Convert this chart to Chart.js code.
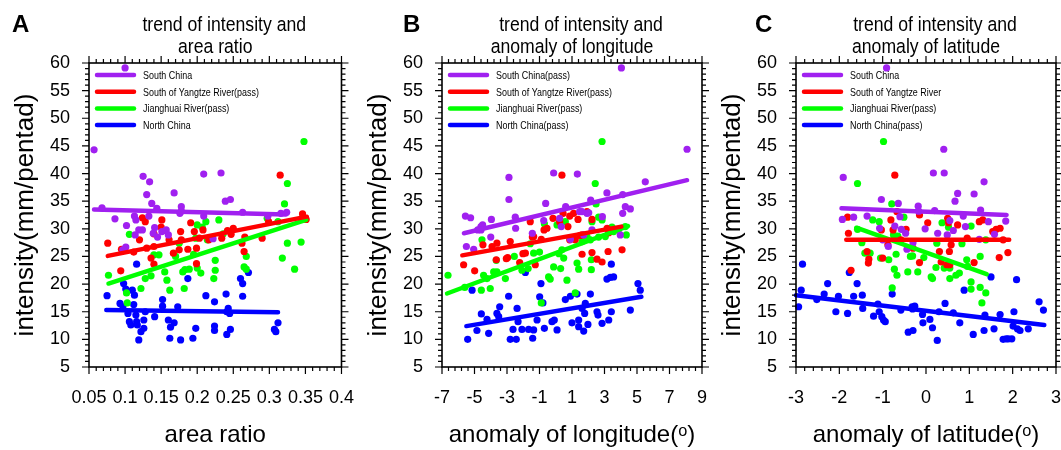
<!DOCTYPE html>
<html>
<head>
<meta charset="utf-8">
<script src="https://cdn.jsdelivr.net/npm/chart.js@4/dist/chart.umd.min.js"></script>
<style>
html, body { margin: 0; padding: 0; background: #fff; overflow: hidden; }
#wrap { position: relative; width: 1061px; height: 450px; }
canvas { position: absolute; top: 0; }
</style>
</head>
<body>
<div id="wrap">
  <canvas id="chartA" width="374" height="450" style="left:0px"></canvas>
  <canvas id="chartB" width="374" height="450" style="left:353px"></canvas>
  <canvas id="chartC" width="374" height="450" style="left:707px"></canvas>
</div>
<script>
// ---- data: [x, intensity] ----
var yTicks = [5, 10, 15, 20, 25, 30, 35, 40, 45, 50, 55, 60];
var regionColors = ['#a020f0', '#ff0000', '#00ff00', '#0000ff'];

// A: area ratio
var aTicks = [0.05, 0.1, 0.15, 0.2, 0.25, 0.3, 0.35, 0.4];
var aTickLabels = ['0.05', '0.1', '0.15', '0.2', '0.25', '0.3', '0.35', '0.4'];
var aNames = ['South China', 'South of Yangtze River(pass)', 'Jianghuai River(pass)', 'North China'];
var aSouth = [[0.057,44.3],[0.100,59.1],[0.068,33.8],[0.086,31.8],[0.102,30.6],[0.101,26.7],[0.097,26.2],[0.115,31.6],[0.113,32.3],[0.119,29.8],[0.124,29.8],[0.114,28.9],[0.125,39.5],[0.134,38.5],[0.130,36.2],[0.137,34.6],[0.133,32.3],[0.141,30.2],[0.139,29.2],[0.145,28.5],[0.151,29.5],[0.157,29.8],[0.160,28.9],[0.168,36.5],[0.178,34.0],[0.176,32.8],[0.209,39.9],[0.209,32.3],[0.222,28.2],[0.233,40.1],[0.239,35.0],[0.246,35.3],[0.263,33.0],[0.298,32.3],[0.316,32.8],[0.324,33.0],[0.144,33.7],[0.178,33.2]];
var aYangtze = [[0.076,27.4],[0.094,22.4],[0.095,26.3],[0.124,32.0],[0.120,28.0],[0.140,29.1],[0.151,31.6],[0.150,30.3],[0.153,29.7],[0.140,26.8],[0.130,26.5],[0.136,24.7],[0.140,23.6],[0.161,28.0],[0.167,25.6],[0.175,26.2],[0.177,29.5],[0.178,28.0],[0.187,26.3],[0.191,31.1],[0.196,29.5],[0.203,28.3],[0.216,28.0],[0.199,23.7],[0.199,26.5],[0.208,29.8],[0.221,28.3],[0.234,28.3],[0.242,29.7],[0.250,30.1],[0.247,29.0],[0.266,28.5],[0.265,25.9],[0.262,27.4],[0.290,28.3],[0.299,31.3],[0.315,39.7],[0.346,32.7],[0.351,31.7],[0.112,25.8],[0.128,31.3]];
var aJianghuai = [[0.077,21.6],[0.106,29.0],[0.102,18.4],[0.103,16.6],[0.122,19.2],[0.128,21.0],[0.136,21.5],[0.140,25.3],[0.147,25.3],[0.155,22.2],[0.158,20.7],[0.162,18.9],[0.170,25.0],[0.175,27.4],[0.180,22.2],[0.182,19.2],[0.189,22.7],[0.198,28.3],[0.200,30.7],[0.200,22.9],[0.205,22.0],[0.207,30.3],[0.212,31.3],[0.214,28.0],[0.223,21.0],[0.225,24.3],[0.225,22.5],[0.230,31.6],[0.236,29.1],[0.265,23.1],[0.268,25.0],[0.268,22.7],[0.297,31.9],[0.312,31.3],[0.318,24.7],[0.321,34.5],[0.325,38.2],[0.325,27.4],[0.335,22.7],[0.344,27.6],[0.348,45.8],[0.195,25.4],[0.183,22.6]];
var aNorth = [[0.075,17.9],[0.093,16.5],[0.097,15.9],[0.098,20.1],[0.101,19.1],[0.104,14.7],[0.106,13.2],[0.108,12.6],[0.110,18.9],[0.112,16.3],[0.113,18.0],[0.115,14.4],[0.116,23.6],[0.116,13.2],[0.117,12.6],[0.119,9.9],[0.122,11.4],[0.126,12.0],[0.126,13.5],[0.128,15.0],[0.141,14.1],[0.152,17.2],[0.152,16.0],[0.160,13.5],[0.162,10.2],[0.163,12.2],[0.168,13.0],[0.173,15.9],[0.177,9.9],[0.187,21.0],[0.194,10.2],[0.198,12.0],[0.212,17.9],[0.224,16.8],[0.224,12.4],[0.224,11.6],[0.240,18.2],[0.241,10.9],[0.241,15.0],[0.243,15.6],[0.245,14.7],[0.246,11.8],[0.260,21.0],[0.263,20.1],[0.263,17.8],[0.271,22.1],[0.307,11.8],[0.309,11.4],[0.312,13.0]];
var aTrends = [[[0.057,33.5],[0.323,32.6]], [[0.076,25.1],[0.352,32.2]], [[0.077,20.1],[0.351,31.6]], [[0.074,15.3],[0.312,14.9]]];

// B: anomaly of longitude
var bTicks = [-7, -5, -3, -1, 1, 3, 5, 7, 9];
var bTickLabels = ['-7', '-5', '-3', '-1', '1', '3', '5', '7', '9'];
var bNames = ['South China(pass)', 'South of Yangtze River(pass)', 'Jianghuai River(pass)', 'North China(pass)'];
var bSouth = [[-5.56,32.3],[-5.24,32.0],[-5.50,26.8],[-5.05,26.3],[-4.6,30.4],[-4.5,30.7],[-4.8,29.8],[-4.6,29.8],[-3.96,31.7],[-4.0,28.5],[-2.88,39.3],[-2.88,35.3],[-2.49,32.1],[-2.47,30.1],[-1.44,29.2],[-0.74,31.5],[-0.62,34.6],[-0.13,40.1],[0.24,31.9],[0.34,30.4],[0.61,34.0],[0.90,28.1],[1.33,39.9],[1.47,33.1],[1.72,28.9],[1.92,32.8],[2.15,35.2],[2.23,29.8],[2.87,32.2],[3.15,36.5],[4.12,36.2],[5.51,38.5],[8.08,44.4],[4.28,34.0],[4.59,33.6],[4.12,32.8],[3.97,28.9],[4.04,59.1],[1.62,33.1],[2.03,32.9]];
var bYangtze = [[-5.67,23.5],[-4.99,22.4],[-3.92,26.8],[-3.62,27.4],[-3.66,24.4],[-2.96,24.8],[-2.80,27.7],[-2.22,23.9],[-1.87,25.6],[-1.57,31.3],[-1.36,28.6],[-1.26,23.5],[-0.89,28.1],[-0.72,29.8],[-0.54,30.1],[0.24,31.3],[0.38,39.7],[0.45,32.8],[0.75,30.4],[0.86,32.3],[0.86,28.0],[1.10,32.8],[1.37,31.7],[1.5,28.8],[1.2,28.0],[1.62,25.4],[1.62,28.9],[1.92,33.1],[2.23,31.7],[2.23,25.7],[2.54,24.5],[2.85,24.0],[3.16,30.1],[3.22,25.9],[3.26,29.3],[4.08,26.2],[-4.48,27.1],[-3.04,24.6],[-2.02,25.5],[-1.44,28.5],[-0.17,31.9]];
var bJianghuai = [[-6.63,21.6],[-5.6,19.4],[-4.54,28.0],[-4.58,18.9],[-4.03,19.2],[-4.44,21.6],[-4.23,21.0],[-3.82,22.2],[-3.62,22.2],[-3.66,24.3],[-3.10,21.0],[-2.55,25.0],[-2.08,22.5],[-1.57,27.3],[-1.36,25.6],[-0.89,16.6],[-0.70,30.9],[-0.44,21.3],[-0.34,20.9],[-0.13,23.1],[0.08,30.7],[0.38,26.2],[0.49,24.7],[0.59,31.3],[0.69,20.7],[1.20,18.4],[1.31,23.8],[1.41,22.7],[1.62,27.7],[1.92,28.6],[2.13,28.0],[2.19,24.4],[2.19,22.6],[2.23,31.3],[2.43,38.2],[2.48,34.5],[2.64,28.5],[2.64,32.1],[2.85,45.8],[2.85,31.6],[3.05,28.6],[3.46,30.3],[3.56,29.5],[3.87,29.9],[4.28,30.4],[4.34,28.9],[-1.0,25.8],[0.2,25.5],[-1.7,22.8],[0.3,22.8]];
var bNorth = [[-5.42,10.0],[-5.15,18.9],[-4.85,11.6],[-4.58,14.6],[-4.23,13.6],[-4.13,11.1],[-3.62,14.7],[-3.51,14.1],[-3.45,15.9],[-2.90,17.8],[-2.80,10.0],[-2.43,10.0],[-2.63,11.8],[-2.38,15.6],[-2.32,13.2],[-2.08,11.8],[-1.67,11.8],[-1.36,11.7],[-1.42,10.2],[-1.87,22.1],[-1.15,13.5],[-0.99,17.7],[-0.91,20.1],[-0.79,16.6],[-0.70,12.0],[-0.23,13.2],[-0.09,13.5],[0.08,11.7],[0.59,17.2],[1.31,18.2],[2.13,18.2],[1.82,16.5],[1.78,14.7],[1.62,15.6],[1.41,13.5],[1.41,12.3],[1.98,12.7],[1.72,11.5],[2.54,15.0],[2.60,14.4],[2.85,12.9],[3.26,13.5],[3.42,15.0],[3.42,23.6],[3.15,20.9],[3.36,21.2],[3.56,21.3],[5.06,20.1],[5.20,18.9],[4.59,15.3],[0.9,17.8],[1.0,13.0]];
var bTrends = [[[-5.65,29.2],[8.08,38.8]], [[-5.75,25.2],[4.04,30.4]], [[-6.69,18.3],[4.45,30.5]], [[-5.50,12.4],[5.27,17.7]]];

// C: anomaly of latitude
var cTicks = [-3, -2, -1, 0, 1, 2, 3];
var cTickLabels = ['-3', '-2', '-1', '0', '1', '2', '3'];
var cNames = ['South China', 'South of Yangtze River', 'Jianghuai River(pass)', 'North China(pass)'];
var cSouth = [[-0.91,59.1],[-1.91,39.3],[-1.93,31.7],[-1.67,32.1],[-1.36,32.3],[-1.03,35.3],[-1.07,30.1],[-1.0,28.0],[-0.87,26.8],[-0.64,34.6],[-0.60,32.2],[-0.72,30.5],[-0.57,29.9],[-0.47,29.2],[-0.44,26.3],[-0.18,34.1],[-0.17,33.2],[-0.02,30.0],[0.17,40.1],[0.42,40.1],[0.41,44.4],[0.20,33.3],[0.27,29.2],[0.49,28.9],[0.63,29.7],[0.67,35.0],[0.73,36.4],[0.86,32.3],[0.91,30.4],[1.11,36.3],[1.23,28.1],[1.26,33.4],[1.34,38.5],[1.44,31.3],[1.58,29.0],[1.84,31.4],[-0.3,27.5],[0.55,31.5]];
var cYangtze = [[-1.81,32.1],[-1.79,29.2],[-1.73,22.5],[-1.36,25.9],[-1.33,23.8],[-1.32,24.5],[-1.0,24.7],[-0.81,31.6],[-0.72,39.7],[-0.88,27.1],[-0.58,28.0],[-0.67,33.1],[-0.46,29.9],[-0.15,23.9],[-0.15,32.5],[0.04,31.1],[0.50,31.9],[0.52,31.1],[0.73,30.7],[0.31,25.9],[0.54,25.9],[0.35,24.0],[0.55,23.5],[0.48,23.5],[1.11,23.9],[1.23,31.3],[1.31,31.6],[1.54,29.5],[1.62,29.9],[1.71,30.1],[1.69,24.8],[1.89,25.7],[0.58,27.1],[-1.03,29.8],[-0.3,26.5],[0.95,28.3],[1.78,28.0],[-0.76,29.8]];
var cJianghuai = [[-0.98,45.8],[-1.58,38.2],[-1.48,27.5],[-1.58,29.9],[-1.41,25.6],[-1.29,25.6],[-1.23,31.6],[-1.08,31.3],[-1.05,24.7],[-0.86,24.4],[-0.79,34.5],[-0.75,28.9],[-0.69,25.4],[-0.73,22.7],[-0.67,21.6],[-0.78,19.3],[-0.65,28.7],[-0.51,32.1],[-0.36,25.0],[-0.42,22.2],[-0.19,22.2],[0.37,31.1],[0.52,30.3],[0.25,27.4],[0.23,23.0],[0.12,21.3],[0.15,21.0],[0.42,22.9],[0.55,22.9],[0.55,21.0],[0.69,21.6],[0.77,22.0],[0.83,27.3],[1.04,30.5],[0.94,24.4],[0.96,23.2],[1.04,20.4],[1.04,19.1],[1.25,25.0],[1.25,19.4],[1.38,18.4],[1.29,16.6],[1.38,28.0],[-0.31,25.1],[-0.05,24.8]];
var cNorth = [[-2.94,15.9],[-2.88,18.9],[-2.85,23.6],[-2.52,17.2],[-2.35,18.2],[-2.27,20.1],[-2.08,15.0],[-2.02,17.8],[-1.81,14.7],[-1.77,22.1],[-1.67,17.8],[-1.59,20.1],[-1.46,15.6],[-1.47,18.0],[-1.21,14.2],[-1.11,16.4],[-1.08,15.0],[-1.02,14.1],[-0.98,13.5],[-0.94,13.2],[-0.78,18.2],[-0.58,15.3],[-0.41,11.3],[-0.30,11.6],[-0.26,16.0],[-0.31,15.5],[-0.07,13.0],[-0.08,14.5],[0.09,13.6],[0.15,12.1],[0.26,9.8],[0.30,15.0],[0.44,16.5],[0.63,14.8],[0.78,13.0],[0.88,18.9],[1.09,10.9],[1.34,11.6],[1.36,14.4],[1.50,21.3],[1.57,11.9],[1.71,14.5],[1.78,10.0],[1.85,10.1],[1.90,10.1],[1.98,10.1],[2.01,12.4],[2.03,15.0],[2.09,20.8],[2.11,11.9],[2.17,11.6],[2.36,11.9],[2.61,16.8],[2.71,15.3],[-0.32,15.9]];
var cTrends = [[[-1.95,33.7],[1.86,32.5]], [[-1.84,28.0],[1.92,28.0]], [[-1.61,30.2],[1.40,21.8]], [[-3.0,18.0],[2.73,12.6]]];

// ---- drawing ----
var sansFont = '"Liberation Sans", Arial, sans-serif';
Chart.defaults.font.family = sansFont;
Chart.defaults.color = '#000';

// 窄字：沒有 Narrow 字型，用水平縮放畫
function narrowText(ctx, txt, x, y, size, squeeze, align) {
    ctx.save();
    ctx.font = size + 'px ' + sansFont;
    ctx.textBaseline = 'alphabetic';
    ctx.textAlign = align;
    ctx.translate(x, y);
    ctx.scale(squeeze, 1);
    ctx.fillText(txt, 0, 0);
    ctx.restore();
}

var frameTicks = {//框線和內外刻度
    id: 'frameTicks',
    afterDatasetsDraw: function(chart, args, opts) {
        var ctx = chart.ctx;
        var a = chart.chartArea;
        var xs = chart.scales.x, ys = chart.scales.y;
        ctx.save();
        ctx.strokeStyle = '#000';
        ctx.lineWidth = 1.2;
        ctx.beginPath();
        var n = Math.round((xs.max - xs.min) / opts.xMinor);
        for (var i = 0; i <= n; i++) {
            var p = xs.getPixelForValue(xs.min + i * opts.xMinor);
            var len = (i % 5 === 0) ? 7 : 4;
            ctx.moveTo(p, a.bottom); ctx.lineTo(p, a.bottom + len);
            ctx.moveTo(p, a.top); ctx.lineTo(p, a.top - len);
        }
        var m = Math.round((ys.max - ys.min) / opts.yMinor);
        for (var j = 0; j <= m; j++) {
            var q = ys.getPixelForValue(ys.min + j * opts.yMinor);
            var len2 = (j % 5 === 0) ? 7 : 4;
            ctx.moveTo(a.left, q); ctx.lineTo(a.left - len2, q);
            ctx.moveTo(a.right, q); ctx.lineTo(a.right + len2, q);
        }
        ctx.stroke();
        ctx.lineWidth = 1.6;
        ctx.strokeRect(a.left, a.top, a.right - a.left, a.bottom - a.top);
        ctx.restore();
    }
};

var boxLegend = {//圖框內左上角的圖例，取趨勢線的名稱和顏色
    id: 'boxLegend',
    afterDatasetsDraw: function(chart) {
        var ctx = chart.ctx;
        var a = chart.chartArea;
        var row = 0;
        chart.data.datasets.forEach(function(d) {
            if (d.type !== 'line') return;
            var y = a.top + 12 + row * 16.7;
            ctx.save();
            ctx.strokeStyle = d.borderColor;
            ctx.lineWidth = 4.5;
            ctx.lineCap = 'round';
            ctx.beginPath();
            ctx.moveTo(a.left + 8, y);
            ctx.lineTo(a.left + 45, y);
            ctx.stroke();
            ctx.fillStyle = '#000';
            narrowText(ctx, d.label, a.left + 54, y + 4, 10.5, 0.85, 'left');
            ctx.restore();
            row++;
        });
    }
};

var panelText = {//A B C 字母和兩行標題
    id: 'panelText',
    afterDraw: function(chart, args, opts) {
        var ctx = chart.ctx;
        var a = chart.chartArea;
        var cx = (a.left + a.right) / 2;
        ctx.save();
        ctx.fillStyle = '#000';
        ctx.font = 'bold 24px ' + sansFont;
        ctx.textBaseline = 'alphabetic';
        ctx.fillText(opts.letter, opts.letterX, 32);
        narrowText(ctx, opts.title[0], cx + 9, 31, 20.5, 0.86, 'center');
        narrowText(ctx, opts.title[1], cx, 53, 20.5, 0.86, 'center');
        ctx.restore();
    }
};

function toXY(arr) {
    return arr.map(function(p) { return {x: p[0], y: p[1]}; });
}

function makePanel(id, p) {
    var datasets = [];
    for (var i = 0; i < 4; i++) {//趨勢線
        datasets.push({
            type: 'line', label: p.names[i], data: toXY(p.trends[i]),
            borderColor: regionColors[i], backgroundColor: regionColors[i],
            borderWidth: 4.5, borderCapStyle: 'round', pointRadius: 0,
            fill: false, tension: 0, order: 0, clip: false
        });
    }
    for (var k = 0; k < 4; k++) {//散點
        datasets.push({
            type: 'scatter', label: p.names[k] + ' points', data: toXY(p.points[k]),
            backgroundColor: regionColors[k], borderWidth: 0,
            pointRadius: 3.6, pointHoverRadius: 3.6, order: 1, clip: 6
        });
    }

    return new Chart(document.getElementById(id).getContext('2d'), {
        type: 'scatter',
        data: { datasets: datasets },
        options: {
            responsive: false,
            animation: false,
            devicePixelRatio: 1,
            layout: { autoPadding: false, padding: { left: 0, top: 63, right: 25, bottom: 0 } },
            scales: {
                x: {
                    type: 'linear', min: p.xMin, max: p.xMax,
                    afterBuildTicks: function(s) { s.ticks = p.xTicks.map(function(v) { return {value: v}; }); },
                    afterFit: function(s) { s.height = 83; },
                    grid: { display: false, drawTicks: false },
                    border: { display: false },
                    ticks: {
                        callback: function(v, i) { return p.xLabels[i]; },
                        font: { size: 18 }, color: '#000', padding: 20,
                        autoSkip: false, maxRotation: 0, minRotation: 0
                    },
                    title: { display: true, text: p.xTitle, font: { size: 24 }, color: '#000', padding: { top: 0, bottom: 0 } }
                },
                y: {
                    type: 'linear', min: 5, max: 60,
                    afterBuildTicks: function(s) { s.ticks = yTicks.map(function(v) { return {value: v}; }); },
                    afterFit: function(s) { s.width = 89; },
                    grid: { display: false, drawTicks: false },
                    border: { display: false },
                    ticks: { font: { size: 18 }, color: '#000', padding: 19, autoSkip: false },
                    title: { display: true, text: 'intensity(mm/pentad)', font: { size: 26 }, color: '#000', padding: { top: 10.5, bottom: 0 } }
                }
            },
            plugins: {
                title: { display: false },
                legend: { display: false },
                tooltip: { enabled: false },
                frameTicks: { xMinor: p.xMinor, yMinor: 1 },
                panelText: { letter: p.letter, letterX: p.letterX, title: p.title }
            }
        },
        plugins: [frameTicks, boxLegend, panelText]
    });
}

makePanel('chartA', {
    letter: 'A', letterX: 12, title: ['trend of intensity and', 'area ratio'], xTitle: 'area ratio',
    xMin: 0.05, xMax: 0.4, xTicks: aTicks, xLabels: aTickLabels, xMinor: 0.01,
    names: aNames, points: [aSouth, aYangtze, aJianghuai, aNorth], trends: aTrends
});
makePanel('chartB', {
    letter: 'B', letterX: 50, title: ['trend of intensity and', 'anomaly of longitude'], xTitle: 'anomaly of longitude(\u1d52)',
    xMin: -7, xMax: 9, xTicks: bTicks, xLabels: bTickLabels, xMinor: 0.4,
    names: bNames, points: [bSouth, bYangtze, bJianghuai, bNorth], trends: bTrends
});
makePanel('chartC', {
    letter: 'C', letterX: 48, title: ['trend of intensity and', 'anomaly of latitude'], xTitle: 'anomaly of latitude(\u1d52)',
    xMin: -3, xMax: 3, xTicks: cTicks, xLabels: cTickLabels, xMinor: 0.2,
    names: cNames, points: [cSouth, cYangtze, cJianghuai, cNorth], trends: cTrends
});
</script>
</body>
</html>
